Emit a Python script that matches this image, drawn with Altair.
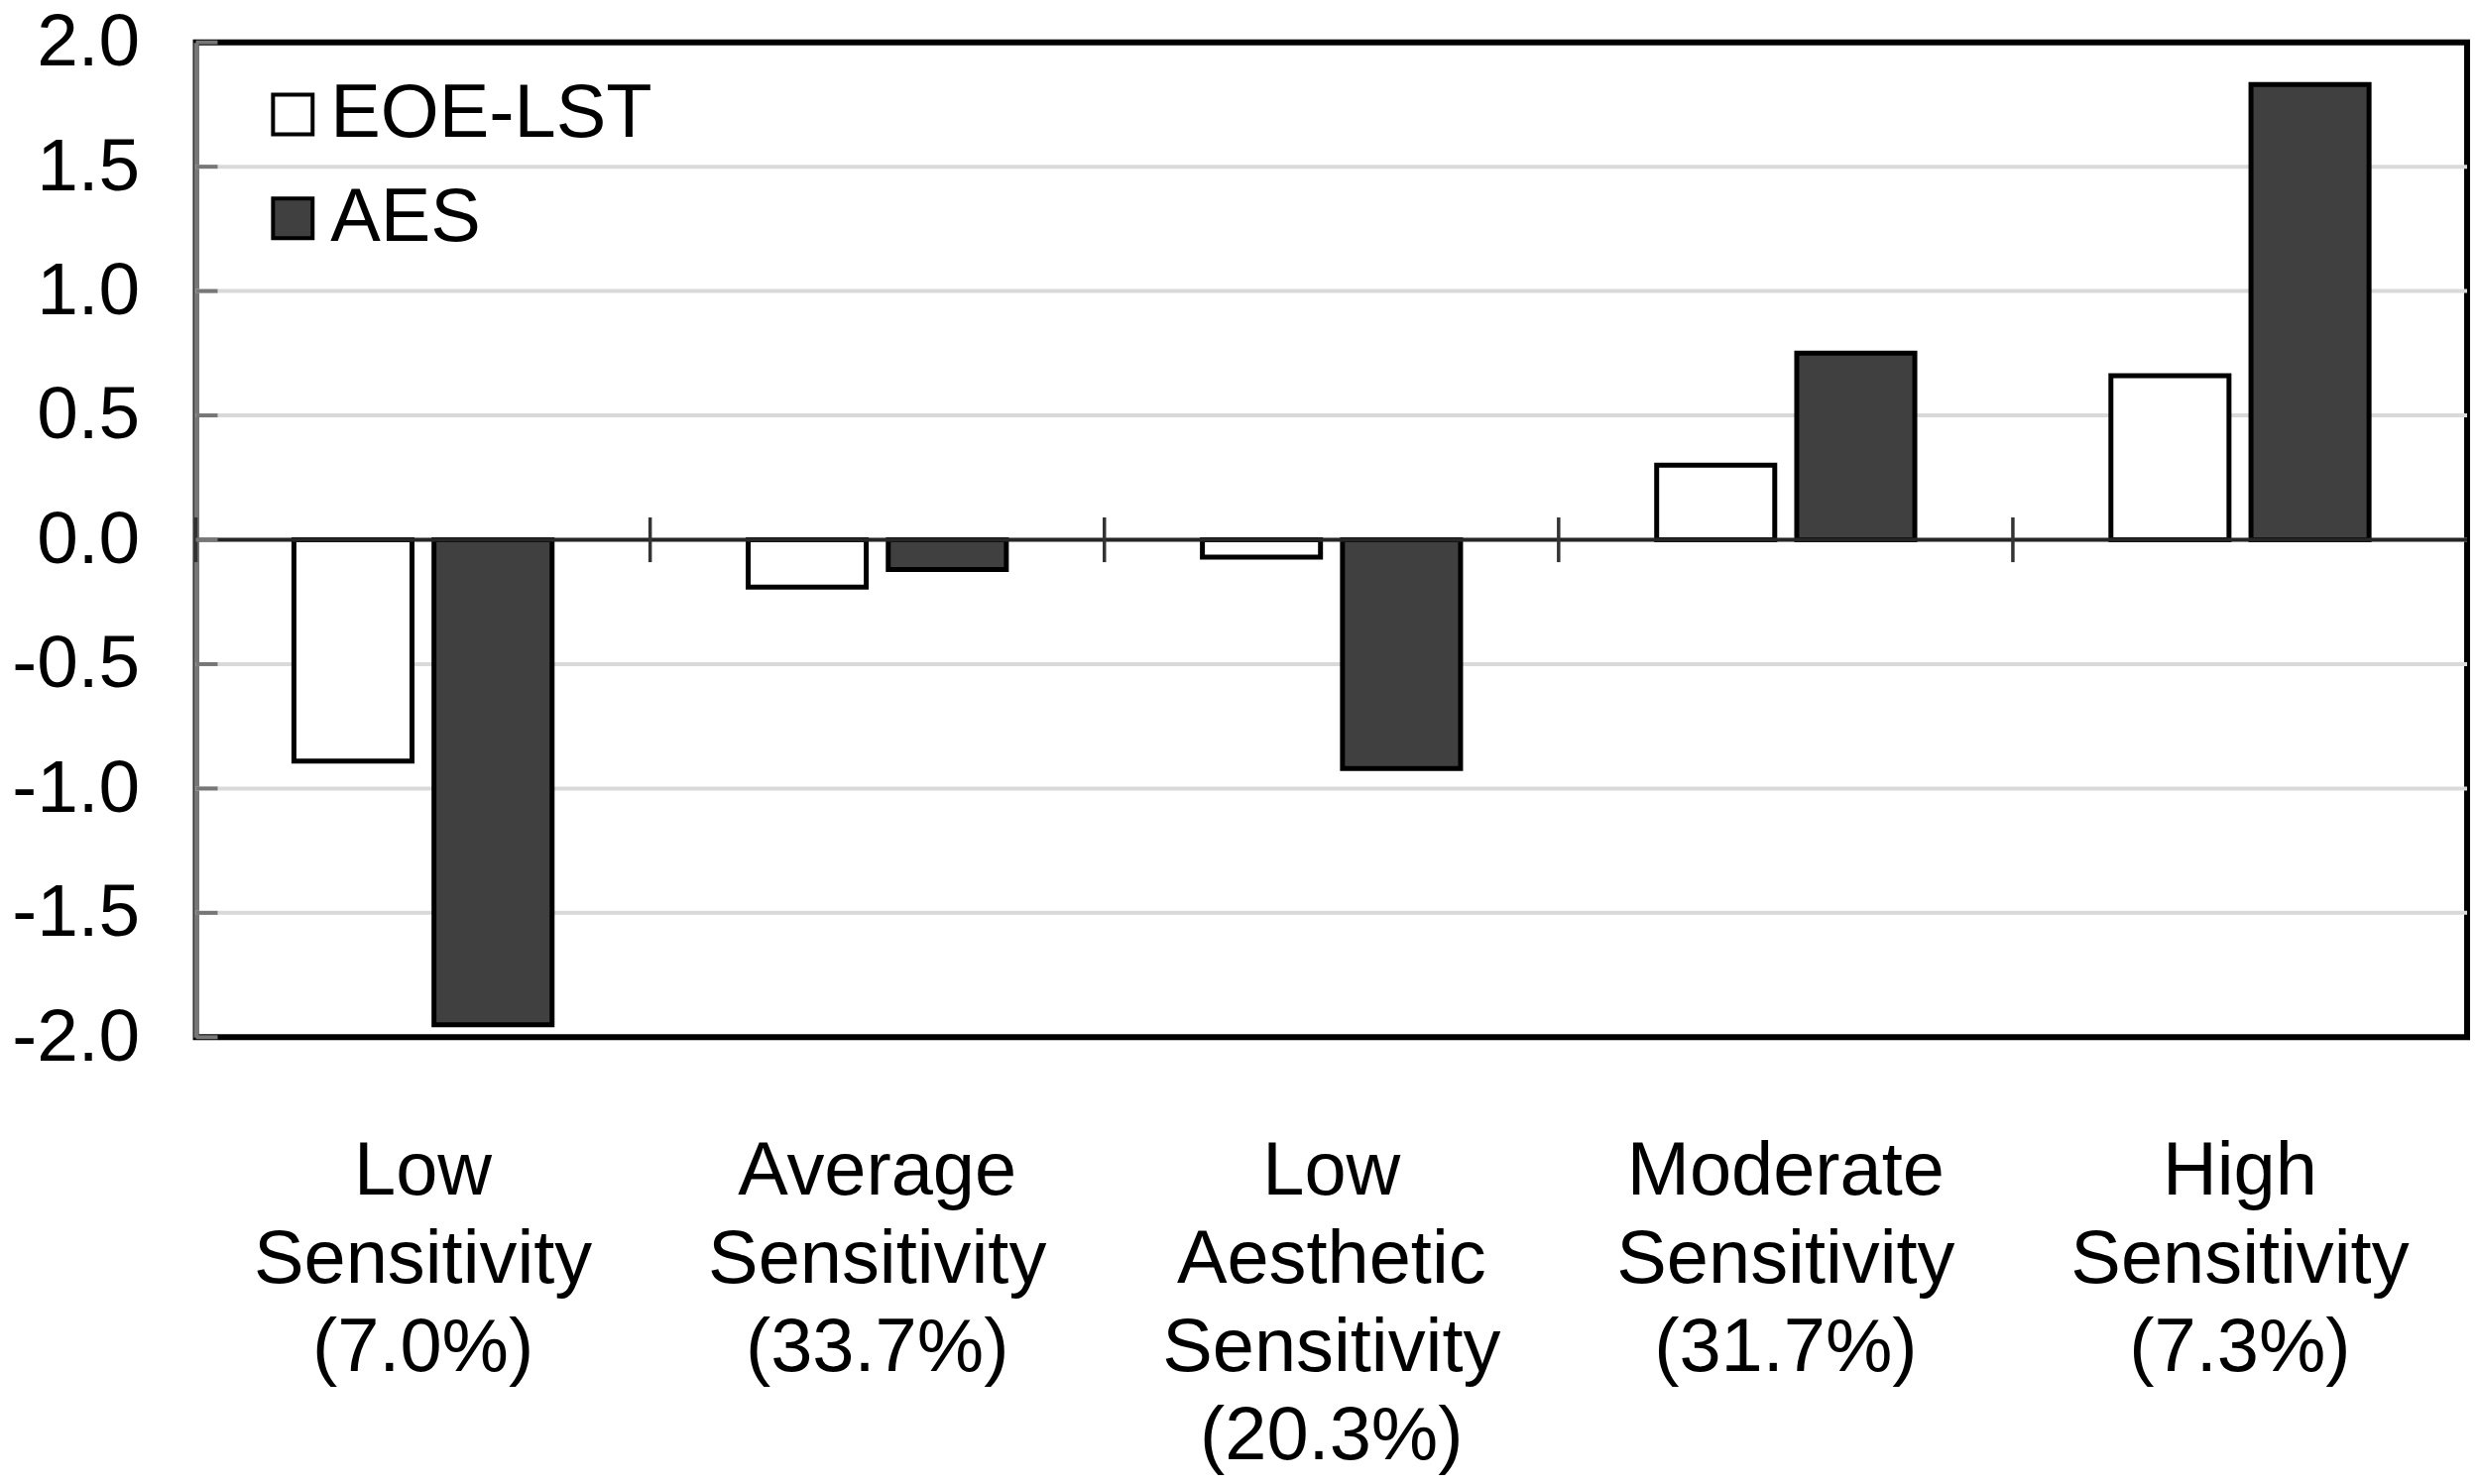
import altair as alt
import pandas as pd

# ---- data ----
categories = [
    "Low|Sensitivity|(7.0%)",
    "Average|Sensitivity|(33.7%)",
    "Low|Aesthetic|Sensitivity|(20.3%)",
    "Moderate|Sensitivity|(31.7%)",
    "High|Sensitivity|(7.3%)",
]
series = ["EOE-LST", "AES"]
eoe_lst = [-0.89, -0.19, -0.07, 0.30, 0.66]
aes = [-1.95, -0.12, -0.92, 0.75, 1.83]
y_ticks = [-2.0, -1.5, -1.0, -0.5, 0.0, 0.5, 1.0, 1.5, 2.0]
series_colors = ["white", "#404040"]

rows = []
for c, v in zip(categories, eoe_lst):
    rows.append({"category": c, "series": series[0], "value": v})
for c, v in zip(categories, aes):
    rows.append({"category": c, "series": series[1], "value": v})
df = pd.DataFrame(rows)

FONT = "Liberation Sans"
FS = 76


def x_enc(band_pos=None):
    kw = {}
    if band_pos is not None:
        kw["bandPosition"] = band_pos
    return alt.X(
        "category:N",
        sort=categories,
        scale=alt.Scale(paddingInner=0, paddingOuter=0),
        axis=alt.Axis(
            title=None,
            labelExpr="split(datum.label, '|')",
            labelAngle=0,
            labelAlign="center",
            labelBaseline="top",
            labelFontSize=FS,
            labelLineHeight=89,
            labelPadding=99,
            labelLimit=2000,
            labelColor="black",
            labelFont=FONT,
            domain=False,
            ticks=False,
            grid=False,
        ),
        **kw,
    )


y_axis = alt.Axis(
    title=None,
    values=y_ticks,
    labelExpr="(datum.value < 0 ? '-' : '') + format(abs(datum.value), '.1f')",
    labelFontSize=75,
    labelFont=FONT,
    labelColor="black",
    labelPadding=57,
    labelBaseline="middle",
    ticks=False,
    domain=True,
    domainColor="#777777",
    domainWidth=5,
    grid=False,
)
y_scale = alt.Scale(domain=[-2, 2], nice=False, zero=False)


def y_enc(field="value:Q"):
    return alt.Y(field, scale=y_scale, axis=y_axis)


grid_df = pd.DataFrame({"value": [v for v in y_ticks if abs(v) < 2]})
gridlines = alt.Chart(grid_df).mark_rule(color="#d9d9d9", strokeWidth=4).encode(
    y=y_enc()
)

bars = alt.Chart(df).mark_bar(stroke="black", strokeWidth=5).encode(
    x=x_enc(),
    xOffset=alt.XOffset(
        "series:N", sort=series,
        scale=alt.Scale(paddingInner=0.157, paddingOuter=0.7),
    ),
    y=y_enc(),
    color=alt.Color(
        "series:N",
        sort=series,
        scale=alt.Scale(domain=series, range=series_colors),
        legend=alt.Legend(
            title=None,
            orient="none",
            legendX=60,
            legendY=35,
            symbolType="square",
            symbolSize=1600,
            symbolStrokeWidth=4,
            symbolStrokeColor="black",
            labelFontSize=FS,
            labelFont=FONT,
            labelColor="black",
            labelOffset=0,
            labelLimit=2000,
            rowPadding=29,
            padding=0,
        ),
    ),
)

zero_df = pd.DataFrame({"value": [0.0]})
zero_line = alt.Chart(zero_df).mark_rule(color="#262626", strokeWidth=4).encode(
    y=y_enc()
)

cat_df = pd.DataFrame({"category": categories})
boundary_ticks = alt.Chart(cat_df).mark_rule(color="#333333", strokeWidth=3.5).encode(
    x=x_enc(0),
    y=alt.datum(-0.09),
    y2=alt.datum(0.09),
)

ytick_df = pd.DataFrame({"value": y_ticks})
y_inner_ticks = alt.Chart(ytick_df).mark_rule(color="#777777", strokeWidth=4).encode(
    y=y_enc(),
    x=alt.value(0),
    x2=alt.value(22),
)

chart = (
    alt.layer(gridlines, bars, zero_line, boundary_ticks, y_inner_ticks)
    .properties(
        width=2296,
        height=1006,
        autosize=alt.AutoSizeParams(type="none"),
        padding={"left": 190, "top": 33, "right": 4, "bottom": 450},
    )
    .configure(font=FONT)
    .configure_view(stroke="black", strokeWidth=6)
)

chart.save("out.html", embed_options={"renderer": "svg", "actions": False})
